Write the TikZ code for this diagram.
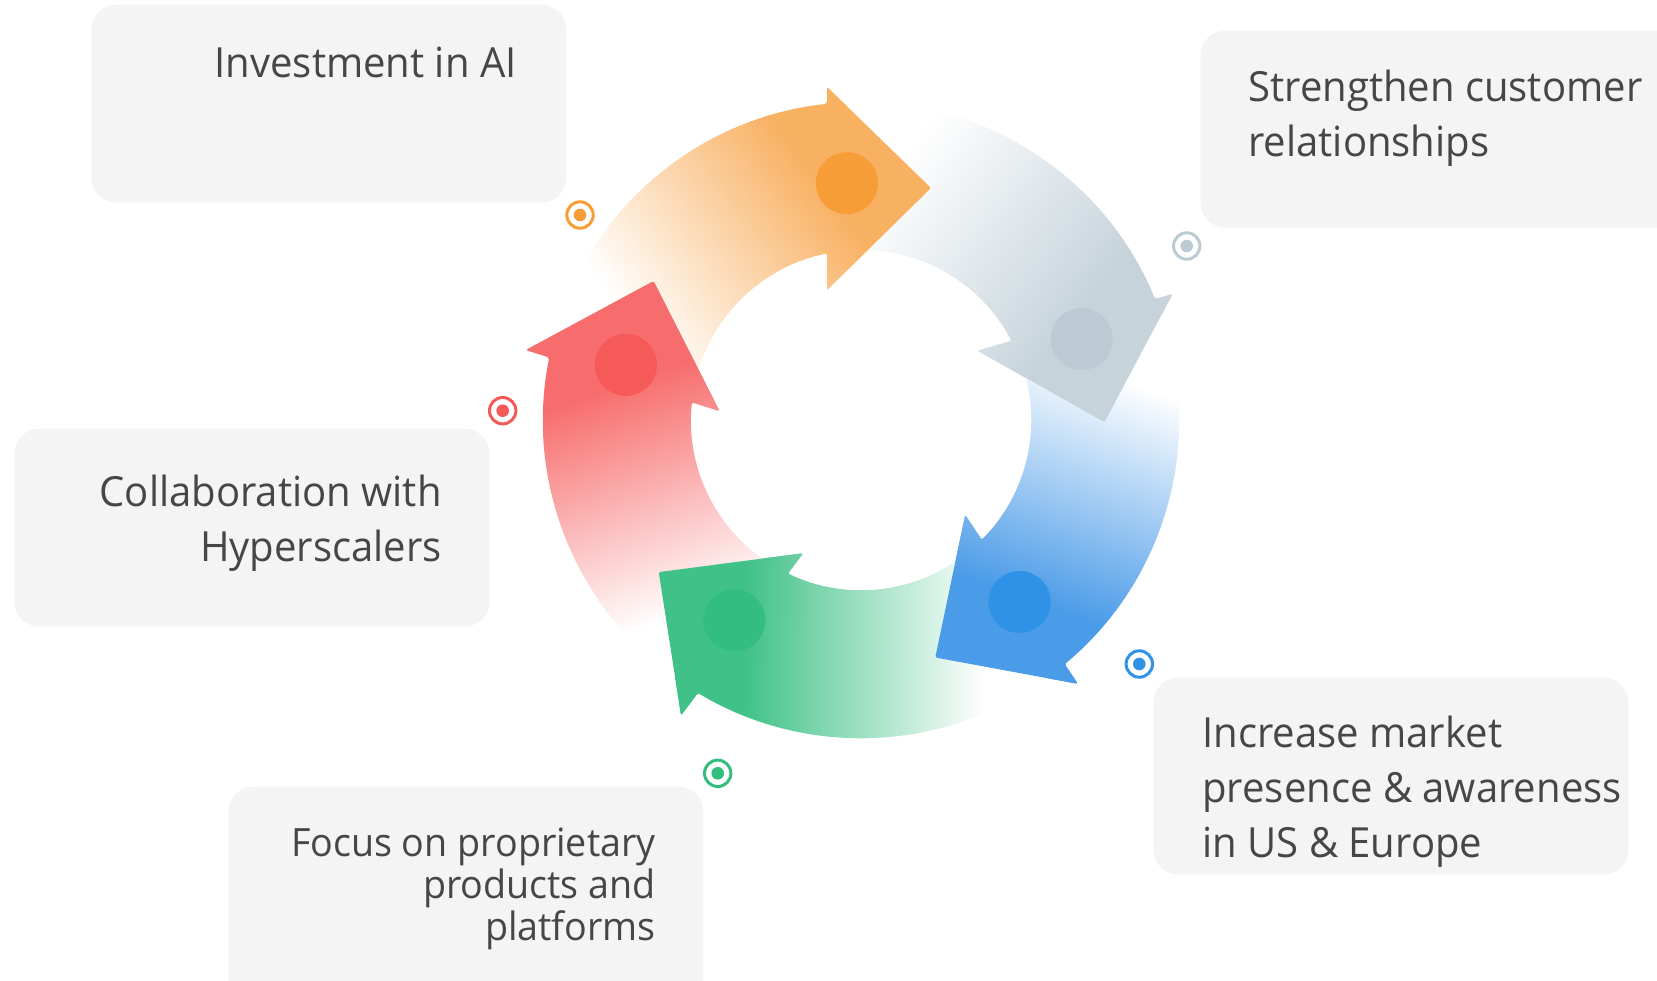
\documentclass[tikz,border=0pt]{standalone}
\usepackage{fontspec}
\setmainfont{Open Sans}[FakeStretch=0.965]

\definecolor{cardfill}{HTML}{F4F4F4}
\definecolor{ink}{HTML}{464646}
\definecolor{fadewhite}{rgb}{1,1,1}
% arrow body colours (at the head end)
\definecolor{orangeA}{HTML}{F8B061}
\definecolor{grayA}{HTML}{C6D3DB}
\definecolor{blueA}{HTML}{4A9BE8}
\definecolor{greenA}{HTML}{40C188}
\definecolor{redA}{HTML}{F76C6C}
% solid dot / marker colours
\definecolor{orangeD}{HTML}{F79D38}
\definecolor{grayD}{HTML}{BCCAD3}
\definecolor{blueD}{HTML}{2F92E6}
\definecolor{greenD}{HTML}{33BD7F}
\definecolor{redD}{HTML}{F55A58}

\colorlet{arrowcol}{orangeA}
% white at the tail, full colour towards the head
\pgfdeclarehorizontalshading[arrowcol]{arrowfade}{100bp}{%
  color(0bp)=(fadewhite); color(29bp)=(fadewhite);
  color(64bp)=(arrowcol); color(100bp)=(arrowcol)}

% one curved arrow of the cycle, in the frame of the top arrow,
% relative to the centre of the ring; #1 pushes the head outwards
\newcommand\ArrowOutline[1]{(166:318) arc[start angle=166, end angle=96.14, radius=318]
  -- (-34,{333+#1}) -- (70,{232+#1}) -- (-34,{130+#1}) -- (-34,166.56)
  arc[start angle=101.54, end angle=166, radius=170] -- cycle}
\newcommand\ArrowHead[1]{(-34,{333+#1}) -- (70,{232+#1}) -- (-34,{130+#1}) -- cycle}

\begin{document}
\begin{tikzpicture}[x=0.5pt, y=0.5pt,
  card/.style={fill=cardfill, draw=none, rounded corners=12.5pt, inner sep=0pt,
    anchor=south west},
  label/.style={text=ink, inner sep=0pt, font=\fontsize{20.75pt}{27.5pt}\selectfont},
  smalllabel/.style={text=ink, inner sep=0pt, font=\fontsize{19.5pt}{21pt}\selectfont},
  target/.style={circle, draw=#1, line width=1.5pt, minimum size=13.2pt, inner sep=0pt,
    path picture={\fill[#1] (path picture bounding box.center) circle[radius=6.3];}},
  arrowshade/.style={shading=arrowfade, shading angle=36.5, rounded corners=1pt}]

\path[use as bounding box] (0,0) rectangle (1657,980);
\clip (0,0) rectangle (1657,980);

% text cards
\node[card, minimum width=237.5pt, minimum height=99pt]   (card1) at (91,777) {};
\node[card, minimum width=260pt,   minimum height=98.5pt] (card2) at (1200,752) {};
\node[card, minimum width=237.5pt, minimum height=99pt]   (card3) at (14,353) {};
\node[card, minimum width=237.5pt, minimum height=116.5pt](card4) at (228,-40) {};
\node[card, minimum width=237.5pt, minimum height=98.5pt] (card5) at (1153,105) {};

% card texts (multi-line nodes are anchored on their last line)
\node[label, anchor=base east] (t1) at (517,902.7) {Investment in AI};
\node[label, anchor=base west, align=left] (t2) at (1248,823.3)
  {Strengthen customer\\relationships};
\node[label, anchor=base east, align=right] (t3) at (442,418.3)
  {Collaboration with\\Hyperscalers};
\node[smalllabel, anchor=base east, align=right] (t4) at (656,40)
  {Focus on proprietary\\products and\\platforms};
\node[label, anchor=base west, align=left] (t5) at (1202,123)
  {Increase market\\presence \& awareness\\in US \& Europe};

% the five arrows of the cycle: rotation / head offset / colour
\foreach \r/\dd/\fc in {0/0/orangeA,-73.8/1.2/grayA,-146.3/6.8/blueA,-217/11.2/greenA,-287.5/7.6/redA}{
  \begin{scope}[transform canvas={rotate around={\r:(861,560)}}]
    \colorlet{arrowcol}{\fc}
    \shade[arrowshade, shift={(861,560)}] \ArrowOutline{\dd};
  \end{scope}
}
% heads again, on top of the neighbouring tails
\foreach \r/\dd/\fc in {0/0/orangeA,-73.8/1.2/grayA,-146.3/6.8/blueA,-217/11.2/greenA,-287.5/7.6/redA}{
  \begin{scope}[transform canvas={rotate around={\r:(861,560)}}]
    \colorlet{arrowcol}{\fc}
    \begin{scope}[shift={(861,560)}]
      \clip[rounded corners=1pt] \ArrowHead{\dd};
      \shade[arrowshade] \ArrowOutline{\dd};
    \end{scope}
  \end{scope}
}

% solid dots on the arrows
\fill[orangeD] (846.9,796.8) circle[radius=31];
\fill[grayD]   (1081.7,641) circle[radius=31];
\fill[blueD]   (1019.6,378) circle[radius=31];
\fill[greenD]  (734.4,359.7) circle[radius=31];
\fill[redD]    (625.9,615.1) circle[radius=31];

% bullseye markers
\node[target=orangeD] (m1) at (580,765) {};
\node[target=grayD]   (m2) at (1186.7,734) {};
\node[target=blueD]   (m3) at (1139.3,316) {};
\node[target=greenD]  (m4) at (717.7,206.7) {};
\node[target=redD]    (m5) at (502.7,569.3) {};
\end{tikzpicture}
\end{document}
